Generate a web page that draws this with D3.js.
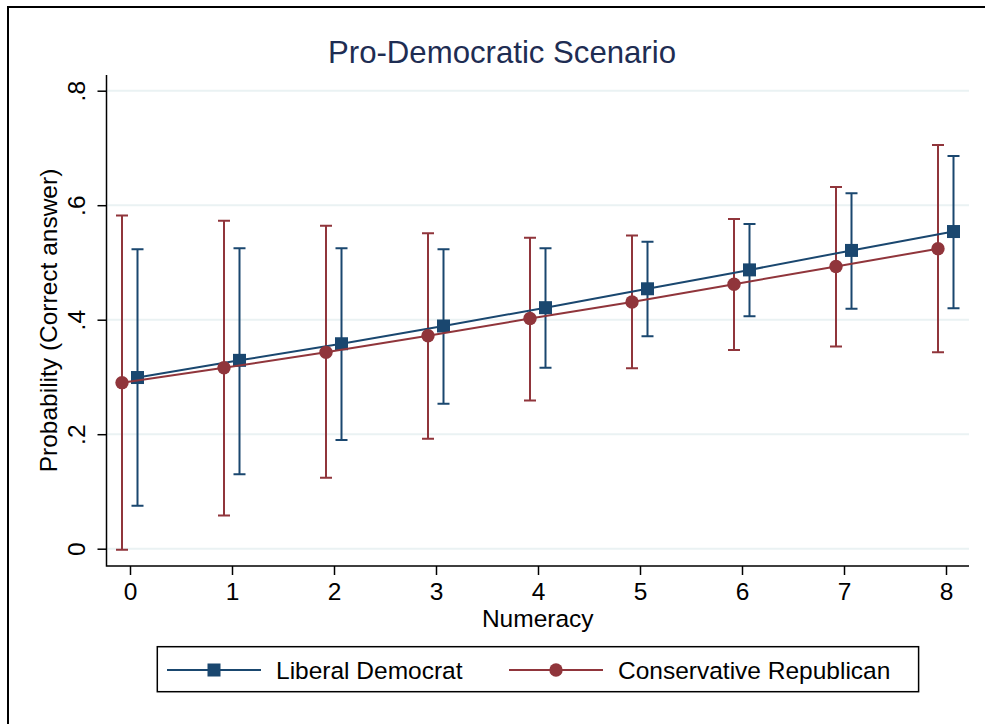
<!DOCTYPE html>
<html>
<head>
<meta charset="utf-8">
<script src="https://cdn.jsdelivr.net/npm/d3@7"></script>
<style>
  body { margin: 0; background: #fff; }
  text { font-family: "Liberation Sans", Arial, Helvetica, sans-serif; }
</style>
</head>
<body>
<div id="chart"></div>
<script>
//** data **//
var numeracy = [0, 1, 2, 3, 4, 5, 6, 7, 8];

var libMean = [0.299, 0.329, 0.358, 0.389, 0.421, 0.454, 0.487, 0.521, 0.554];
var libLo   = [0.075, 0.130, 0.190, 0.253, 0.316, 0.371, 0.406, 0.419, 0.420];
var libHi   = [0.523, 0.525, 0.525, 0.523, 0.525, 0.536, 0.567, 0.621, 0.686];

var conMean = [0.290, 0.316, 0.343, 0.372, 0.402, 0.431, 0.462, 0.493, 0.524];
var conLo   = [-0.002, 0.058, 0.124, 0.192, 0.259, 0.315, 0.347, 0.353, 0.343];
var conHi   = [0.582, 0.573, 0.564, 0.551, 0.543, 0.547, 0.576, 0.632, 0.705];

var yTicks = [0, 0.2, 0.4, 0.6, 0.8];
var yTickLabels = ["0", ".2", ".4", ".6", ".8"];

var seriesNames = ["Liberal Democrat", "Conservative Republican"];

var blue = "#1a476f",
    red = "#90353b";

var width = 985,
    height = 724;

// plot region
var plot = { left: 106.5, right: 969, top: 75, bottom: 566 };

var svg = d3.select("#chart")
  .append("svg")
    .attr("width", width)
    .attr("height", height);

// outer frame (right and bottom edge fall outside the picture)
svg.append("rect")
    .attr("x", 8)
    .attr("y", 7)
    .attr("width", 1100)
    .attr("height", 900)
    .attr("fill", "none")
    .attr("stroke", "#000")
    .attr("stroke-width", 2);

// scales
var x = d3.scaleLinear()
    .domain([0, 8])
    .range([130, 946]);

var y = d3.scaleLinear()
    .domain([0, 0.8])
    .range([548.7, 90.7]);

// grid
svg.append("g")
  .selectAll("line")
  .data(yTicks)
  .enter().append("line")
    .attr("x1", plot.left + 1)
    .attr("x2", plot.right)
    .attr("y1", function(d) { return y(d); })
    .attr("y2", function(d) { return y(d); })
    .attr("stroke", "#eaf2f3")
    .attr("stroke-width", 2);

// y axis
var yAxis = svg.append("g")
    .attr("transform", "translate(" + plot.left + ",0)")
    .call(d3.axisLeft(y)
      .tickValues(yTicks)
      .tickSize(9)
      .tickFormat(function(d, i) { return yTickLabels[i]; }));
yAxis.select(".domain").remove();
yAxis.selectAll(".tick line").attr("stroke", "#000").attr("stroke-width", 1.5);
yAxis.selectAll(".tick text")
    .attr("x", null).attr("dy", null)
    .attr("transform", "translate(-21.5,0) rotate(-90)")
    .attr("text-anchor", "middle")
    .attr("font-size", 24.5)
    .attr("font-family", "Liberation Sans, Arial, sans-serif")
    .attr("fill", "#000");

// x axis
var xAxis = svg.append("g")
    .attr("transform", "translate(0," + plot.bottom + ")")
    .call(d3.axisBottom(x)
      .tickValues(numeracy)
      .tickSize(9)
      .tickFormat(d3.format("d")));
xAxis.select(".domain").remove();
xAxis.selectAll(".tick line").attr("stroke", "#000").attr("stroke-width", 1.5);
xAxis.selectAll(".tick text")
    .attr("y", 34).attr("dy", null)
    .attr("font-size", 24.5)
    .attr("font-family", "Liberation Sans, Arial, sans-serif")
    .attr("fill", "#000");

// axis lines
svg.append("path")
    .attr("d", "M" + plot.left + "," + plot.top + "V" + plot.bottom + "H" + plot.right)
    .attr("fill", "none")
    .attr("stroke", "#000")
    .attr("stroke-width", 1.5);

// build the two series
var series = [
  { name: seriesNames[0], color: blue, shift: 7.5, shape: "square",
    pts: numeracy.map(function(n, i) { return { n: n, m: libMean[i], lo: libLo[i], hi: libHi[i] }; }) },
  { name: seriesNames[1], color: red, shift: -8, shape: "circle",
    pts: numeracy.map(function(n, i) { return { n: n, m: conMean[i], lo: conLo[i], hi: conHi[i] }; }) }
];

var capW = 6;

series.forEach(function(s) {
  var px = function(d) { return x(d.n) + s.shift; };
  var g = svg.append("g").attr("stroke", s.color).attr("stroke-width", 2).attr("fill", "none");

  // error bars
  g.selectAll(".bar")
    .data(s.pts)
    .enter().append("path")
      .attr("class", "bar")
      .attr("d", function(d) {
        var cx = px(d);
        return "M" + (cx - capW) + "," + y(d.hi) + "H" + (cx + capW) +
               "M" + cx + "," + y(d.hi) + "V" + y(d.lo) +
               "M" + (cx - capW) + "," + y(d.lo) + "H" + (cx + capW);
      });
});

series.forEach(function(s) {
  var px = function(d) { return x(d.n) + s.shift; };
  var line = d3.line()
      .x(px)
      .y(function(d) { return y(d.m); });

  svg.append("path")
      .datum(s.pts)
      .attr("d", line)
      .attr("fill", "none")
      .attr("stroke", s.color)
      .attr("stroke-width", 2);

  if (s.shape == "square") {
    svg.append("g").selectAll("rect")
      .data(s.pts)
      .enter().append("rect")
        .attr("x", function(d) { return px(d) - 6.5; })
        .attr("y", function(d) { return y(d.m) - 6.5; })
        .attr("width", 13)
        .attr("height", 13)
        .attr("fill", s.color);
  } else {
    svg.append("g").selectAll("circle")
      .data(s.pts)
      .enter().append("circle")
        .attr("cx", px)
        .attr("cy", function(d) { return y(d.m); })
        .attr("r", 6.7)
        .attr("fill", s.color);
  }
});

// titles
svg.append("text")
    .attr("x", 502)
    .attr("y", 63)
    .attr("text-anchor", "middle")
    .attr("font-size", 31.5)
    .attr("textLength", 348)
    .attr("lengthAdjust", "spacingAndGlyphs")
    .attr("fill", "#1e2d53")
    .text("Pro-Democratic Scenario");

svg.append("text")
    .attr("x", (plot.left + plot.right) / 2)
    .attr("y", 627)
    .attr("text-anchor", "middle")
    .attr("font-size", 24.5)
    .attr("fill", "#000")
    .text("Numeracy");

svg.append("text")
    .attr("transform", "translate(57," + ((plot.top + plot.bottom) / 2) + ") rotate(-90)")
    .attr("text-anchor", "middle")
    .attr("font-size", 24.5)
    .attr("fill", "#000")
    .text("Probability (Correct answer)");

// legend
svg.append("rect")
    .attr("x", 157.3)
    .attr("y", 646.7)
    .attr("width", 918.6 - 157.3)
    .attr("height", 45)
    .attr("fill", "#fff")
    .attr("stroke", "#000")
    .attr("stroke-width", 1.5);

var legendX = [167, 509];
var legend = svg.append("g")
  .selectAll("g")
  .data(series)
  .enter().append("g")
    .attr("transform", function(d, i) { return "translate(" + legendX[i] + ",670)"; });

legend.append("line")
    .attr("x1", 0)
    .attr("x2", 94)
    .attr("stroke", function(d) { return d.color; })
    .attr("stroke-width", 2);

legend.each(function(d) {
  var el = d3.select(this);
  if (d.shape == "square") {
    el.append("rect")
      .attr("x", 40.5).attr("y", -6.5)
      .attr("width", 13).attr("height", 13)
      .attr("fill", d.color);
  } else {
    el.append("circle")
      .attr("cx", 47).attr("r", 6.7)
      .attr("fill", d.color);
  }
});

legend.append("text")
    .attr("x", 109)
    .attr("y", 9)
    .attr("font-size", 24.5)
    .attr("fill", "#000")
    .text(function(d) { return d.name; });
</script>
</body>
</html>
